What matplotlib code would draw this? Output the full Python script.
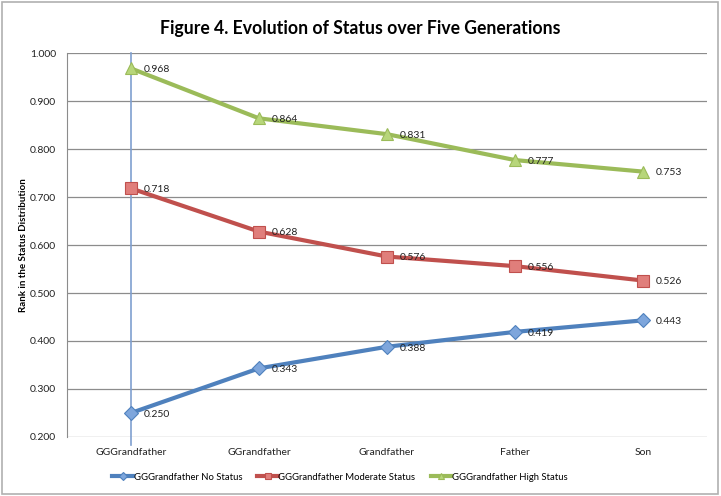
import matplotlib.pyplot as plt
from matplotlib.patches import Rectangle

# data
generations = ["GGGrandfather", "GGrandfather", "Grandfather", "Father", "Son"]
no_status = [0.250, 0.343, 0.388, 0.419, 0.443]
moderate_status = [0.718, 0.628, 0.576, 0.556, 0.526]
high_status = [0.968, 0.864, 0.831, 0.777, 0.753]
y_ticks = [0.2, 0.3, 0.4, 0.5, 0.6, 0.7, 0.8, 0.9, 1.0]

plt.rcParams['font.family'] = ['Lato', 'DejaVu Sans']

fig = plt.figure(figsize=(7.21, 4.96), dpi=100)
ax = fig.add_axes([0.0929, 0.119, 0.8877, 0.774])

# outer chart frame
fig.patches.append(Rectangle((0.003, 0.005), 0.993, 0.99, transform=fig.transFigure,
                             fill=False, edgecolor='#b0b0b0', linewidth=1.2))

x = list(range(len(generations)))

# vertical axis line crossing at the first category
ax.axvline(0, ymin=-0.02, ymax=1, color='#7f9fcf', linewidth=1.2, clip_on=False, zorder=1)

series = [
    (no_status, "GGGrandfather No Status", '#4f81bd', 'D', '#7ea6dc'),
    (moderate_status, "GGGrandfather Moderate Status", '#c0504d', 's', '#e07e7b'),
    (high_status, "GGGrandfather High Status", '#9bbb59', '^', '#b7d67a'),
]
for vals, name, col, mk, face in series:
    ax.plot(x, vals, color=col, linewidth=3, marker=mk, markersize=8 if mk != 'D' else 7,
            markerfacecolor=face, markeredgecolor=col, markeredgewidth=0.8,
            label=name, zorder=3)
    for xi, v in zip(x, vals):
        ax.annotate(f"{v:.3f}", (xi, v), xytext=(9, -1), textcoords='offset points',
                    ha='left', va='center', fontsize=7.5, color='#222222')

ax.set_xlim(-0.5, 4.5)
ax.set_ylim(0.2, 1.0)
ax.set_yticks(y_ticks)
ax.set_yticklabels([f"{t:.3f}" for t in y_ticks], fontsize=7.5)
ax.set_xticks(x)
ax.set_xticklabels(generations, fontsize=7.5)
ax.tick_params(axis='both', length=0, pad=8, colors='#222222')
ax.yaxis.grid(True, color='#8c8c8c', linewidth=0.9)
ax.set_axisbelow(True)
for s in ['top', 'right', 'bottom']:
    ax.spines[s].set_visible(False)
ax.spines['left'].set_color('#8c8c8c')

ax.set_ylabel("Rank in the Status Distribution", fontsize=7, fontweight='bold', labelpad=1)
fig.suptitle("Figure 4. Evolution of Status over Five Generations", fontsize=12.7,
             fontweight='bold', x=0.5, y=0.96)

ax.legend(loc='upper left', bbox_to_anchor=(0.065, -0.083), ncol=3, frameon=False,
          fontsize=6.8, handlelength=2.2, columnspacing=1.6, handletextpad=0.05,
          markerscale=0.6, borderaxespad=0)

fig.savefig("out.png", dpi=100)
